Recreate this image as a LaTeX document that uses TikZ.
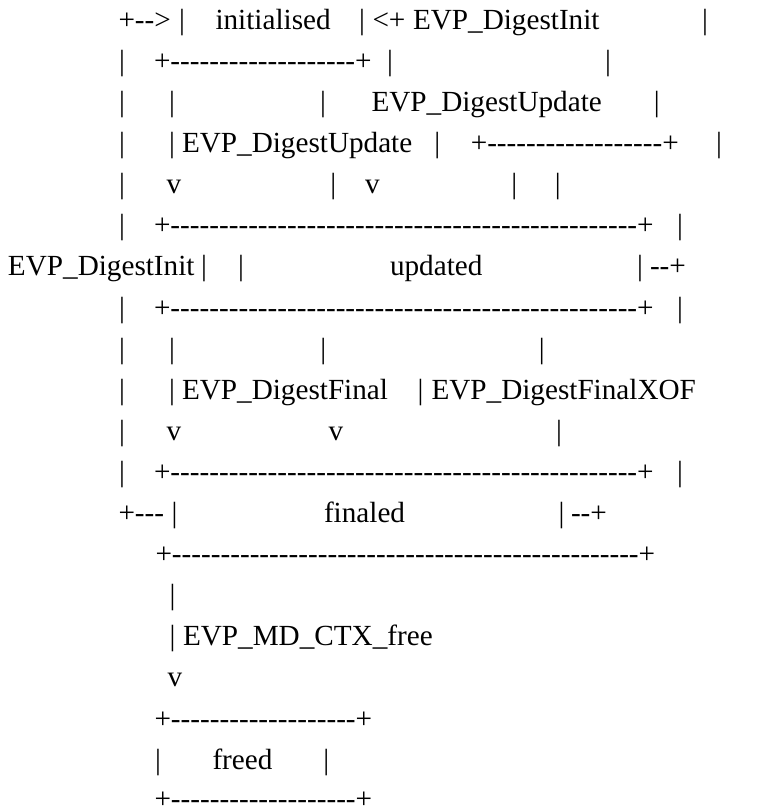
\documentclass[tikz,border=0pt]{standalone}
\usepackage{fontspec}
\newfontfamily\asc{Liberation Serif}
\newcommand\ascf{\asc\fontsize{29.2pt}{35pt}\selectfont}
\ExplSyntaxOn
\NewDocumentCommand\dsh{m}{\prg_replicate:nn{#1}{-\kern0pt}}
\ExplSyntaxOff
\newcommand\bx[1]{+\kern0pt\dsh{#1}+}
\tikzset{
  tx/.style={inner sep=0pt, outer sep=0pt, font=\ascf, anchor=base west, text=black},
  br/.style={tx, anchor=base},
}
\begin{document}
\begin{tikzpicture}[x=1pt,y=-1pt]
\useasboundingbox (0,0) rectangle (771,811);
% line 1
\node[tx] (n1a) at (118.5,29.3) {+\kern0pt\dsh{2}\textgreater};
\node[br] (n1b) at (182,29.3) {\textbar};
\node[tx] (n1c) at (215.5,29.3) {initialised};
\node[br] (n1d) at (362,29.3) {\textbar};
\node[tx] (n1e) at (372.5,29.3) {\textless+};
\node[tx] (n1g) at (413,29.3) {EVP\_DigestInit};
\node[br] (n1h) at (705,29.3) {\textbar};
% line 2
\node[br] (n2a) at (122,70.4) {\textbar};
\node[tx] (n2b) at (154,70.4) {\bx{19}};
\node[br] (n2c) at (390,70.4) {\textbar};
\node[br] (n2d) at (608,70.4) {\textbar};
% line 3
\node[br] (n3a) at (122,111.5) {\textbar};
\node[br] (n3b) at (172,111.5) {\textbar};
\node[br] (n3c) at (323,111.5) {\textbar};
\node[tx] (n3d) at (371.5,111.5) {EVP\_DigestUpdate};
\node[br] (n3e) at (656.7,111.5) {\textbar};
% line 4
\node[br] (n4a) at (122,152.6) {\textbar};
\node[br] (n4b) at (172,152.6) {\textbar};
\node[tx] (n4c) at (182,152.6) {EVP\_DigestUpdate};
\node[br] (n4d) at (437.3,152.6) {\textbar};
\node[tx] (n4e) at (470.8,152.6) {\bx{18}};
\node[br] (n4f) at (719,152.6) {\textbar};
% line 5
\node[br] (n5a) at (122,193.7) {\textbar};
\node[br] (n5b) at (174,193.7) {v};
\node[br] (n5c) at (333.3,193.7) {\textbar};
\node[br] (n5d) at (372.5,193.7) {v};
\node[br] (n5e) at (514.3,193.7) {\textbar};
\node[br] (n5f) at (557.7,193.7) {\textbar};
% line 6
\node[br] (n6a) at (122,234.8) {\textbar};
\node[tx] (n6b) at (154,234.8) {\bx{48}};
\node[br] (n6c) at (680,234.8) {\textbar};
% line 7
\node[tx] (n7a) at (8,275.9) {EVP\_DigestInit};
\node[br] (n7b) at (204,275.9) {\textbar};
\node[br] (n7c) at (241,275.9) {\textbar};
\node[tx] (n7d) at (390,275.9) {updated};
\node[br] (n7e) at (640,275.9) {\textbar};
\node[tx] (n7f) at (650,275.9) {\dsh{2}+};
% line 8
\node[br] (n8a) at (122,317.0) {\textbar};
\node[tx] (n8b) at (154,317.0) {\bx{48}};
\node[br] (n8c) at (680,317.0) {\textbar};
% line 9
\node[br] (n9a) at (122,358.1) {\textbar};
\node[br] (n9b) at (172,358.1) {\textbar};
\node[br] (n9c) at (323.3,358.1) {\textbar};
\node[br] (n9d) at (541.7,358.1) {\textbar};
% line 10
\node[br] (n10a) at (122,399.2) {\textbar};
\node[br] (n10b) at (172,399.2) {\textbar};
\node[tx] (n10c) at (182,399.2) {EVP\_DigestFinal};
\node[br] (n10d) at (420.5,399.2) {\textbar};
\node[tx] (n10e) at (431.5,399.2) {EVP\_DigestFinalXOF};
% line 11
\node[br] (n11a) at (122,440.3) {\textbar};
\node[br] (n11b) at (174,440.3) {v};
\node[br] (n11c) at (336,440.3) {v};
\node[br] (n11d) at (559,440.3) {\textbar};
% line 12
\node[br] (n12a) at (122,481.4) {\textbar};
\node[tx] (n12b) at (154,481.4) {\bx{48}};
\node[br] (n12c) at (680,481.4) {\textbar};
% line 13
\node[tx] (n13a) at (118.5,522.5) {+\kern0pt\dsh{3}};
\node[br] (n13b) at (174.5,522.5) {\textbar};
\node[tx] (n13c) at (324,522.5) {finaled};
\node[br] (n13d) at (561.5,522.5) {\textbar};
\node[tx] (n13e) at (571,522.5) {\dsh{2}+};
% line 14
\node[tx] (n14a) at (155.5,563.6) {\bx{48}};
% line 15
\node[br] (n15a) at (172.5,604.7) {\textbar};
% line 16
\node[br] (n16a) at (172.5,645.8) {\textbar};
\node[tx] (n16b) at (183,645.8) {EVP\_MD\_CTX\_free};
% line 17
\node[br] (n17a) at (175,686.9) {v};
% line 18
\node[tx] (n18a) at (154.5,728.0) {\bx{19}};
% line 19
\node[br] (n19a) at (158,769.1) {\textbar};
\node[tx] (n19b) at (212.5,769.1) {freed};
\node[br] (n19c) at (326.3,769.1) {\textbar};
% line 20
\node[tx] (n20a) at (154.5,808.8) {\bx{19}};
\end{tikzpicture}
\end{document}
